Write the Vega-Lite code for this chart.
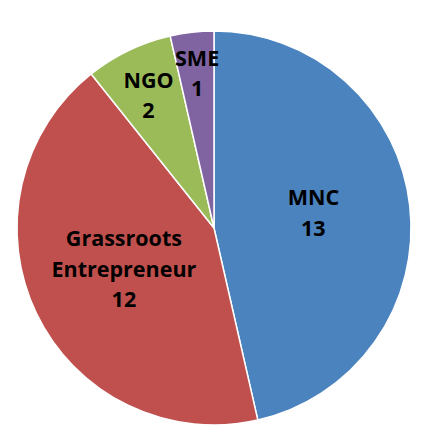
{
  "$schema": "https://vega.github.io/schema/vega-lite/v6.json",
  "width": 424,
  "height": 418,
  "autosize": "none",
  "padding": {"left": 2, "top": 19, "right": 0, "bottom": 0},
  "background": "white",
  "view": {"stroke": null},
  "data": {
    "values": [
      {"rank": 1, "name": "MNC", "count": 13},
      {"rank": 2, "name": "Grassroots Entrepreneur", "count": 12},
      {"rank": 3, "name": "NGO", "count": 2},
      {"rank": 4, "name": "SME", "count": 1}
    ]
  },
  "transform": [
    {"stack": "count", "groupby": [], "sort": [{"field": "rank"}], "as": ["start", "end"]},
    {"calculate": "(datum.start + datum.end) / 2", "as": "mid"},
    {"calculate": "split(datum.name + ' ' + datum.count, ' ')", "as": "label"}
  ],
  "layer": [
    {
      "mark": {"type": "arc", "outerRadius": 197, "stroke": "white", "strokeWidth": 1.5},
      "encoding": {
        "theta": {"field": "start", "type": "quantitative", "scale": {"domain": [0, 28]}},
        "theta2": {"field": "end"},
        "color": {
          "field": "name",
          "type": "nominal",
          "legend": null,
          "scale": {
            "domain": ["MNC", "Grassroots Entrepreneur", "NGO", "SME"],
            "range": ["#4A83BE", "#C0504D", "#9BBB59", "#8064A2"]
          }
        }
      }
    },
    {
      "transform": [{"filter": "datum.name == 'MNC'"}],
      "mark": {"type": "text", "radius": 100, "dy": -18, "font": "Open Sans", "fontSize": 21.5, "fontWeight": "bold", "lineHeight": 31, "align": "center", "baseline": "middle", "color": "black"},
      "encoding": {"theta": {"field": "mid", "type": "quantitative"}, "text": {"field": "label"}}
    },
    {
      "transform": [{"filter": "datum.name == 'Grassroots Entrepreneur'"}],
      "mark": {"type": "text", "radius": 100, "dy": -31, "font": "Open Sans", "fontSize": 21.5, "fontWeight": "bold", "lineHeight": 30.5, "align": "center", "baseline": "middle", "color": "black"},
      "encoding": {"theta": {"field": "mid", "type": "quantitative"}, "text": {"field": "label"}}
    },
    {
      "transform": [{"filter": "datum.name == 'NGO'"}],
      "mark": {"type": "text", "radius": 151, "dy": -10, "font": "Open Sans", "fontSize": 21.5, "fontWeight": "bold", "lineHeight": 30, "align": "center", "baseline": "middle", "color": "black"},
      "encoding": {"theta": {"field": "mid", "type": "quantitative"}, "text": {"field": "label"}}
    },
    {
      "transform": [{"filter": "datum.name == 'SME'"}],
      "mark": {"type": "text", "radius": 151, "dy": -18, "font": "Open Sans", "fontSize": 21.5, "fontWeight": "bold", "lineHeight": 30, "align": "center", "baseline": "middle", "color": "black"},
      "encoding": {"theta": {"field": "mid", "type": "quantitative"}, "text": {"field": "label"}}
    }
  ]
}
